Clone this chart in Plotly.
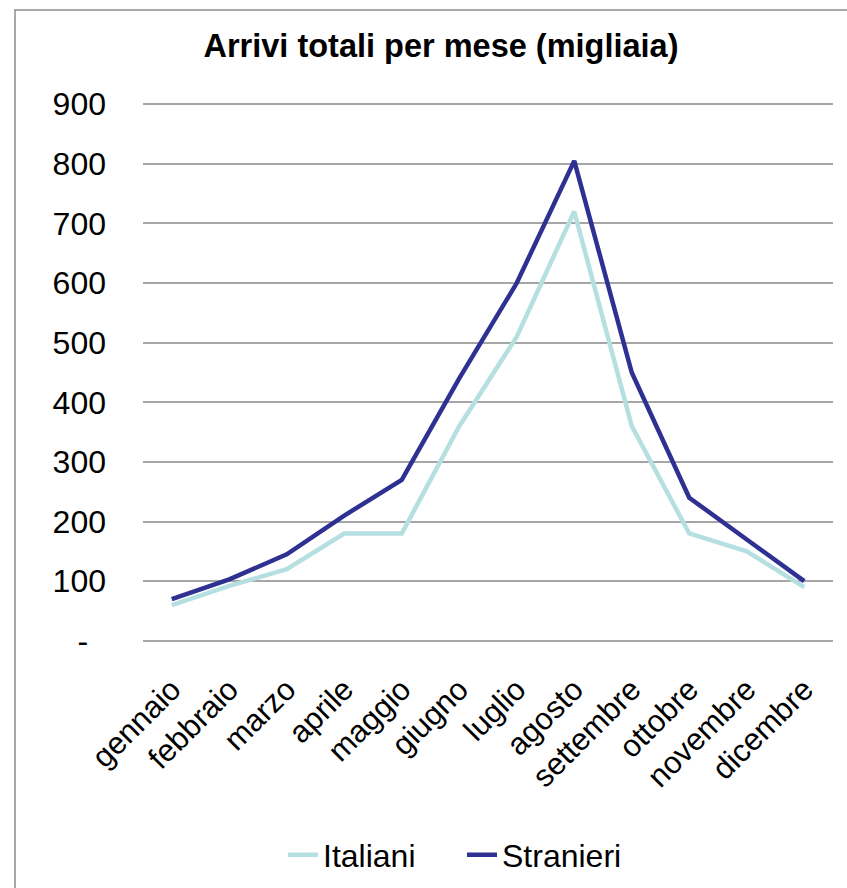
import plotly.graph_objects as go

# Monthly arrivals (thousands)
mesi = ["gennaio", "febbraio", "marzo", "aprile", "maggio", "giugno",
        "luglio", "agosto", "settembre", "ottobre", "novembre", "dicembre"]
italiani = [60, 92, 120, 180, 180, 360, 510, 720, 360, 180, 150, 90]
stranieri = [70, 103, 145, 210, 270, 440, 600, 805, 450, 240, 170, 100]

y_tick_vals = [0, 100, 200, 300, 400, 500, 600, 700, 800, 900]
# accounting-style zero: a dash padded away from the digits column
y_tick_text = ["-\u00a0\u00a0", "100", "200", "300", "400", "500",
               "600", "700", "800", "900"]

FONT = "Liberation Sans, Arial, Helvetica, sans-serif"
W, H = 847, 888
M_L, M_R, M_T, M_B = 143, 14, 103, 246
PW = W - M_L - M_R
PH = H - M_T - M_B
Y_RANGE = [-2, 902]  # small pad so the 0 and 900 gridlines are drawn

fig = go.Figure()
fig.add_trace(go.Scatter(
    x=mesi, y=italiani, name="Italiani", mode="lines",
    line=dict(color="#B5DFE0", width=4.5),
))
fig.add_trace(go.Scatter(
    x=mesi, y=stranieri, name="Stranieri", mode="lines",
    line=dict(color="#2E3192", width=4.5),
))

# outer chart frame (left and top edges visible)
fig.add_shape(
    type="rect", xref="paper", yref="paper",
    x0=(15 - M_L) / PW, x1=(880 - M_L) / PW,
    y0=-(M_B + 20) / PH, y1=(H - M_B - 10) / PH,
    line=dict(color="#8c8c8c", width=1.5), fillcolor="rgba(0,0,0,0)",
    layer="below",
)

fig.update_layout(
    width=W, height=H,
    margin=dict(l=M_L, r=M_R, t=M_T, b=M_B),
    paper_bgcolor="white", plot_bgcolor="white",
    font=dict(family=FONT, size=32, color="black"),
    title=dict(
        text="<b>Arrivi totali per mese (migliaia)</b>",
        font=dict(family=FONT, size=32.5, color="black"),
        x=441 / W, xanchor="center", xref="container",
        y=1 - 46 / H, yanchor="middle", yref="container",
    ),
    showlegend=True,
    legend=dict(
        orientation="h", xref="container", yref="container",
        x=462 / W, xanchor="center", y=1 - 855 / H, yanchor="middle",
        font=dict(family=FONT, size=32, color="black"),
        bgcolor="rgba(0,0,0,0)",
        entrywidth=134, entrywidthmode="pixels",
    ),
    xaxis=dict(
        type="category", range=[-0.5, 11.5],
        tickangle=-45, showgrid=False, zeroline=False, showline=False,
        ticks="", tickfont=dict(size=31), ticklabelstandoff=22,
    ),
    yaxis=dict(
        range=Y_RANGE, tickvals=y_tick_vals, ticktext=y_tick_text,
        showgrid=True, gridcolor="#a6a6a6", gridwidth=2,
        zeroline=False, showline=False, ticks="",
        tickfont=dict(size=32), ticklabelstandoff=36,
    ),
)

fig.write_html("out.html")
